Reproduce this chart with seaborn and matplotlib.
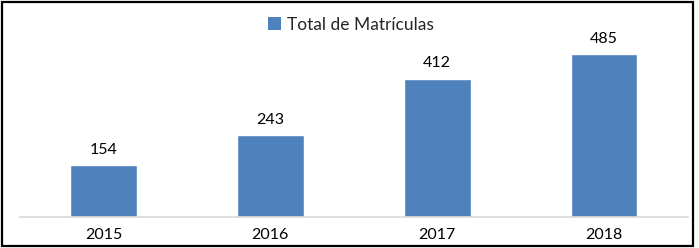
import numpy as np
import pandas as pd
import matplotlib
matplotlib.use("Agg")
import matplotlib.pyplot as plt
import seaborn as sns
from matplotlib.patches import Rectangle, Patch

### data
anos = ["2015", "2016", "2017", "2018"]
matriculas = [154, 243, 412, 485]
serie = "Total de Matrículas"

df = pd.DataFrame({"ano": anos, "total": matriculas})

sns.set_style("white")
plt.rcParams["font.family"] = ["Lato", "DejaVu Sans"]

fig = plt.figure(figsize=(6.99, 2.48), dpi=100)
ax = fig.add_axes([0.0286, 0.125, 0.955, 0.82])

cor = "#4f81bd"
sns.barplot(data=df, x="ano", y="total", color=cor, width=0.4, saturation=1, ax=ax)

for p, v in zip(ax.patches, matriculas):
    ax.annotate(str(v), (p.get_x() + p.get_width() / 2, p.get_height()),
                xytext=(0, 6), textcoords="offset points",
                ha="center", va="bottom", fontsize=11.5, color="#000000")

ax.set_xlim(-0.5, 3.5)
ax.set_ylim(0, 605)
ax.set_xlabel("")
ax.set_ylabel("")
ax.set_yticks([])
for s in ["top", "right", "left"]:
    ax.spines[s].set_visible(False)
ax.spines["bottom"].set_color("#d9d9d9")
ax.spines["bottom"].set_linewidth(1.2)
ax.tick_params(axis="x", length=0, labelsize=11.5, pad=8, colors="#000000")

fig.legend(handles=[Patch(facecolor=cor, edgecolor="none")], labels=[serie],
           loc="center", bbox_to_anchor=(0.502, 0.9), frameon=False,
           fontsize=12.5, handlelength=0.75, handleheight=0.75, handletextpad=0.3)

# moldura externa
fig.patches.append(Rectangle((0.003, 0.008), 0.989, 0.984, transform=fig.transFigure,
                             fill=False, edgecolor="#000000", linewidth=1.6))

fig.savefig("out.png", dpi=100)
